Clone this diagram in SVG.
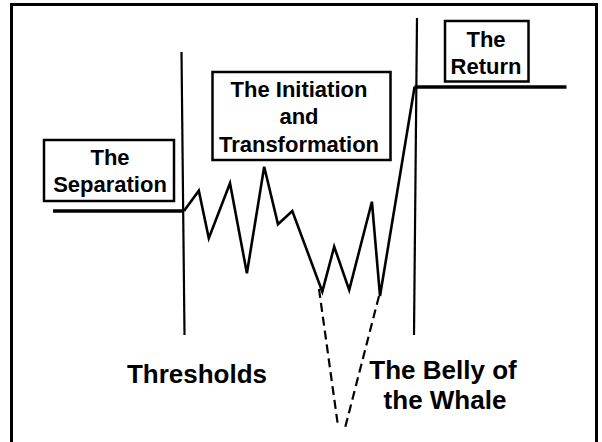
<svg xmlns="http://www.w3.org/2000/svg" width="602" height="442" viewBox="0 0 602 442">
<style>
.box{fill:#fff;stroke:#000;stroke-width:2.5}
.lbl{font-family:"Liberation Sans",Arial,sans-serif;font-weight:bold;font-size:22px;text-anchor:middle;fill:#000}
.big{font-family:"Liberation Sans",Arial,sans-serif;font-weight:bold;font-size:26px;text-anchor:middle;fill:#000}
.thr{fill:none;stroke:#000;stroke-width:2.2}
.lvl{fill:none;stroke:#000;stroke-width:3.5}
.zig{fill:none;stroke:#000;stroke-width:2.6;stroke-linejoin:miter}
.dash{fill:none;stroke:#000;stroke-width:2.2;stroke-dasharray:9,5}
</style>
<rect x="11.5" y="4.5" width="585" height="460" fill="#fff" stroke="#000" stroke-width="3"/>
<g id="connectors">
<line class="thr" x1="181.5" y1="52" x2="184.5" y2="335"/>
<line class="thr" x1="417" y1="18" x2="414" y2="335"/>
<line class="lvl" x1="53" y1="211" x2="184" y2="211"/>
<line class="lvl" x1="414.5" y1="87" x2="566.5" y2="87"/>
<polyline class="zig" points="184,211 198.8,190.7 208.8,238.3 230,183.3 246.9,273.3 264.2,166.7 278,224.3 292.3,211 322.3,291.7 334.2,246.7 349.2,290 371.9,201.7 380,296 414.6,86.7"/>
<line class="dash" x1="319" y1="289" x2="338" y2="426"/>
<line class="dash" x1="379" y1="296" x2="344.5" y2="430"/>
</g>
<g id="separation">
<rect class="box" x="44" y="140" width="130" height="61"/>
<text class="lbl" x="110" y="165">The</text>
<text class="lbl" x="110" y="192">Separation</text>
</g>
<g id="initiation">
<rect class="box" x="212.5" y="72" width="178" height="88"/>
<text class="lbl" x="299" y="96.5">The Initiation</text>
<text class="lbl" x="299" y="124">and</text>
<text class="lbl" x="299" y="151.5">Transformation</text>
</g>
<g id="return">
<rect class="box" x="445" y="21" width="83.5" height="60.5"/>
<text class="lbl" x="486" y="46.5">The</text>
<text class="lbl" x="486" y="74">Return</text>
</g>
<g id="thresholds">
<text class="big" x="197" y="382.5">Thresholds</text>
</g>
<g id="belly">
<text class="big" x="443" y="379">The Belly of</text>
<text class="big" x="445" y="409">the Whale</text>
</g>
</svg>
